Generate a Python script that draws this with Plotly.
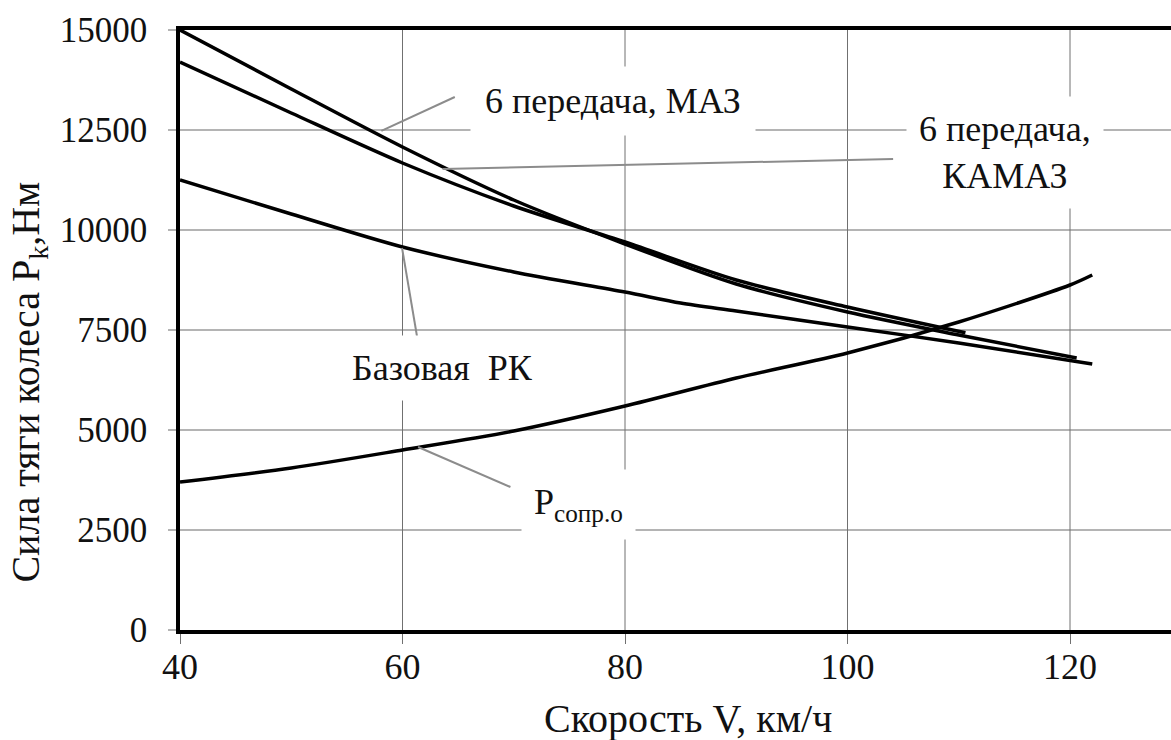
import plotly.graph_objects as go

# ---- data ----
speed_maz = [40, 50, 60, 70, 80, 90, 100, 110, 120.6]
p_maz = [15000, 13525, 12075, 10750, 9650, 8650, 7950, 7375, 6800]

speed_kamaz = [40, 50, 60, 70, 80, 90, 100, 110.6]
p_kamaz = [14200, 12925, 11675, 10600, 9700, 8750, 8075, 7430]

speed_base = [40, 50, 60, 70, 80, 85, 90, 100, 110, 122]
p_base = [11250, 10400, 9575, 8950, 8450, 8175, 7975, 7575, 7175, 6650]

speed_res = [40, 50, 60, 70, 80, 90, 100, 110, 120, 122]
p_res = [3700, 4050, 4500, 4975, 5600, 6300, 6925, 7700, 8625, 8875]

x_ticks = [40, 60, 80, 100, 120]
y_ticks = [0, 2500, 5000, 7500, 10000, 12500, 15000]
y_tick_text = ["0", "2500", "5000", "7500", "10000", "12500", "15000"]

FONT = "Liberation Serif"

fig = go.Figure()

# horizontal gridlines (light gray, thicker)
for yv in y_ticks[1:-1]:
    fig.add_shape(type="line", xref="paper", yref="y", x0=0, x1=1, y0=yv, y1=yv,
                  line=dict(color="#b4b4b4", width=2), layer="below")
# vertical gridlines (dark, thin)
for xv in x_ticks[1:]:
    fig.add_shape(type="line", xref="x", yref="paper", x0=xv, x1=xv, y0=0, y1=1,
                  line=dict(color="#707070", width=1), layer="below")

line_style = dict(color="black", width=3.5, shape="spline", smoothing=0.8)
for xs, ys, name in [(speed_maz, p_maz, "6 передача, МАЗ"),
                     (speed_kamaz, p_kamaz, "6 передача, КАМАЗ"),
                     (speed_base, p_base, "Базовая РК"),
                     (speed_res, p_res, "Pсопр.о")]:
    fig.add_trace(go.Scatter(x=xs, y=ys, mode="lines", name=name,
                             line=line_style, showlegend=False, hoverinfo="x+y"))

# leader lines (gray)
leaders = [
    ((58.1, 12480), (64.7, 13325)),
    ((63.6, 11525), (104.1, 11775)),
    ((59.96, 9550), (61.3, 7350)),
    ((61.4, 4575), (69.7, 3575)),
]
for (xa, ya), (xb, yb) in leaders:
    fig.add_shape(type="line", xref="x", yref="y", x0=xa, y0=ya, x1=xb, y1=yb,
                  line=dict(color="#8c8c8c", width=2), layer="above")

# text labels with white boxes hiding gridlines behind them
labels = [
    (78.9, 13220, "6 передача, МАЗ", 14),
    (114.2, 11950, "6 передача,<br>КАМАЗ", 12),
    (63.6, 6550, "Базовая  РК", 12),
    (75.8, 3150, "P<sub>сопр.о</sub>", 12),
]
for xv, yv, txt, pad in labels:
    fig.add_annotation(x=xv, y=yv, xref="x", yref="y", text=txt, showarrow=False,
                       font=dict(family=FONT, size=36, color="#111"),
                       bgcolor="white", borderpad=pad, xanchor="center", yanchor="middle")

# axis titles
fig.add_annotation(xref="paper", yref="paper", x=-0.153, y=0.413,
                   text="Сила тяги колеса P<sub>k</sub>,Нм", textangle=-90,
                   showarrow=False, font=dict(family=FONT, size=40, color="#111"),
                   xanchor="center", yanchor="middle")
fig.add_annotation(xref="paper", yref="paper", x=0.513, y=-0.148,
                   text="Скорость V, км/ч", showarrow=False,
                   font=dict(family=FONT, size=40, color="#111"),
                   xanchor="center", yanchor="middle")

fig.update_xaxes(range=[40, 40 + 991 / 11.125], tickvals=x_ticks,
                 showgrid=False, zeroline=False,
                 showline=True, linecolor="black", linewidth=3.5, mirror=True,
                 ticks="outside", ticklen=10, tickcolor="#707070", tickwidth=1,
                 ticklabelstandoff=-8,
                 tickfont=dict(family=FONT, size=36, color="#111"))
fig.update_yaxes(range=[0, 15000], tickvals=y_ticks, ticktext=y_tick_text,
                 showgrid=False, zeroline=False,
                 showline=True, linecolor="black", linewidth=3.5,
                 ticks="outside", ticklen=8, tickcolor="#b4b4b4", tickwidth=2,
                 ticklabelstandoff=14,
                 tickfont=dict(family=FONT, size=35, color="#111"))

fig.update_layout(width=1171, height=740,
                  margin=dict(l=180, r=0, t=30, b=110),
                  paper_bgcolor="white", plot_bgcolor="white")

fig.write_html("out.html")
